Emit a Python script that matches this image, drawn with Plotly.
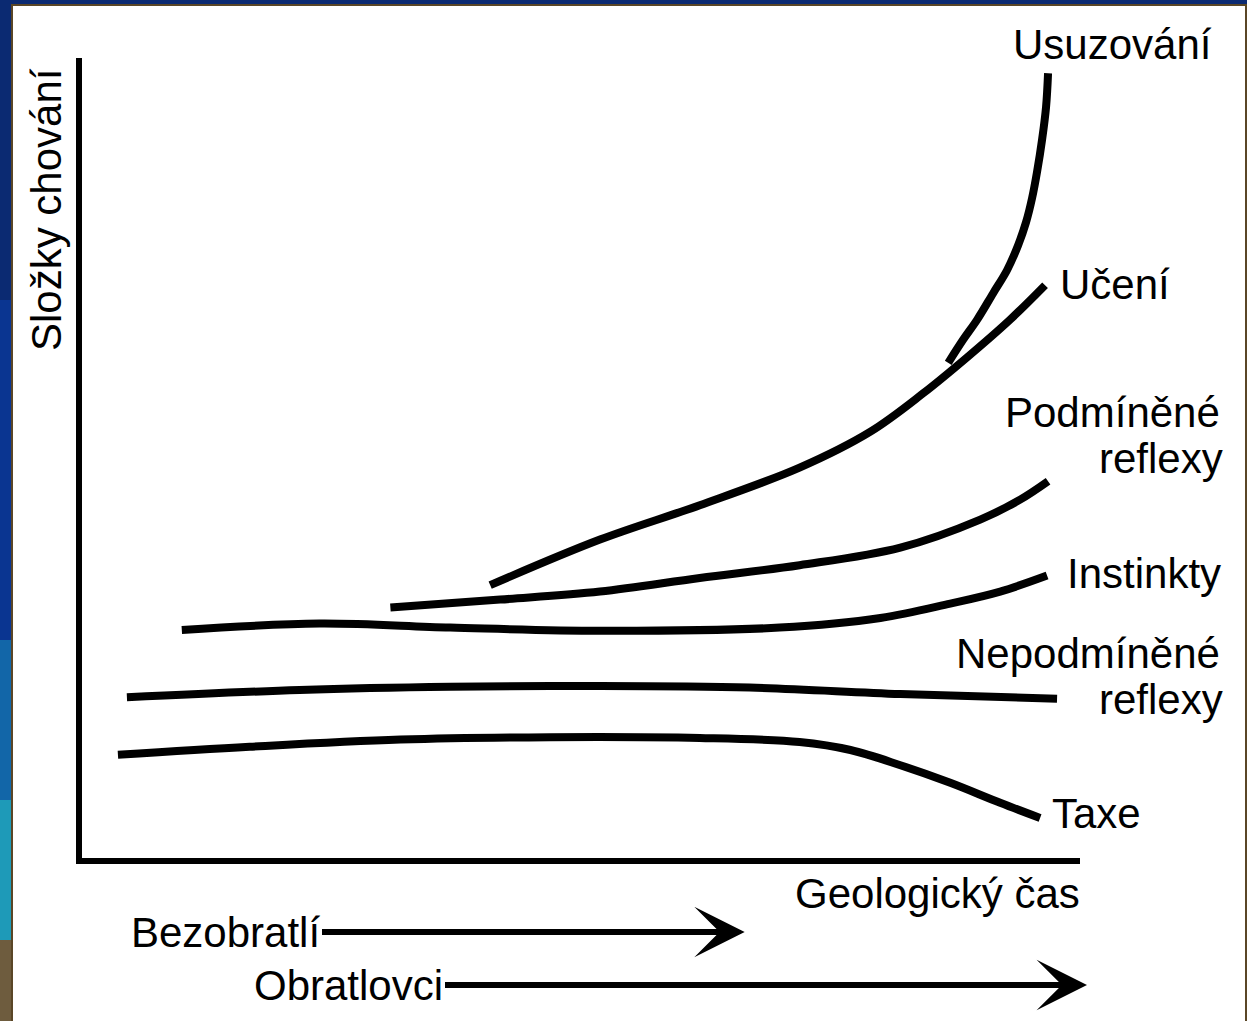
import plotly.graph_objs as go

# geological time (x, 0-100) vs. share of behaviour component (y, 0-100)
taxe_t = [3.6, 16.8, 31.9, 46.9, 61.9, 71.9, 77.0, 82.0, 87.0, 92.0, 96.0]
taxe_v = [12.9, 13.9, 14.8, 15.1, 15.0, 14.5, 13.5, 11.6, 9.4, 6.9, 5.0]

nepodm_t = [4.5, 21.8, 36.9, 51.9, 66.9, 82.0, 97.7]
nepodm_v = [20.1, 21.0, 21.4, 21.5, 21.3, 20.5, 19.9]

instinkty_t = [10.0, 23.8, 36.9, 51.9, 69.9, 80.0, 87.0, 92.0, 96.7]
instinkty_v = [28.5, 29.3, 28.8, 28.4, 28.8, 30.0, 31.8, 33.3, 35.3]

podm_t = [30.9, 41.9, 51.9, 61.9, 71.9, 82.0, 90.0, 94.0, 96.8]
podm_v = [31.3, 32.3, 33.3, 35.0, 36.6, 38.8, 42.3, 44.8, 47.1]

uceni_t = [40.9, 51.9, 61.9, 71.9, 79.0, 84.3, 88.7, 93.0, 96.5]
uceni_v = [34.1, 39.8, 44.1, 48.8, 53.3, 58.1, 62.6, 67.3, 71.6]

usuzovani_t = [86.8, 88.3, 89.7, 91.3, 92.7, 93.8, 94.6, 95.2, 95.7, 96.2, 96.6, 96.8]
usuzovani_v = [61.9, 64.8, 67.3, 70.6, 73.5, 76.6, 79.5, 82.5, 85.8, 89.8, 93.9, 98.1]

# animal groups and how far along geological time their arrows reach
groups = ["Bezobratlí", "Obratlovci"]
group_reach = [66.4, 100.7]

FONT = "Liberation Sans, Arial, sans-serif"
NAVY = "#0b2a72"

W, H = 1247, 1021
M = dict(l=82, r=167, t=58, b=163)
PLOT_W = W - M["l"] - M["r"]
PLOT_H = H - M["t"] - M["b"]


def px_x(px):
    return (px - M["l"]) / PLOT_W


def px_y(py):
    return (H - M["b"] - py) / PLOT_H


curves = [
    (taxe_t, taxe_v),
    (nepodm_t, nepodm_v),
    (instinkty_t, instinkty_v),
    (podm_t, podm_v),
    (uceni_t, uceni_v),
    (usuzovani_t, usuzovani_v),
]

traces = [
    go.Scatter(
        x=t,
        y=v,
        mode="lines",
        line=dict(color="black", width=8, shape="spline", smoothing=1.0),
        hoverinfo="skip",
        showlegend=False,
    )
    for t, v in curves
]

layout = go.Layout(
    width=W,
    height=H,
    margin=M,
    paper_bgcolor=NAVY,
    plot_bgcolor="white",
    font=dict(family=FONT, size=42, color="black"),
    xaxis=dict(
        range=[0, 100], showline=True, linewidth=6, linecolor="black",
        showgrid=False, zeroline=False, showticklabels=False, ticks="",
    ),
    yaxis=dict(
        range=[0, 100], showline=True, linewidth=6, linecolor="black",
        showgrid=False, zeroline=False, showticklabels=False, ticks="",
    ),
)

fig = go.Figure(data=traces, layout=layout)

# slide frame: blue border strip on the left, white panel for the drawing
strip = [(0, 300, "#0b2a72"), (300, 640, "#0a3591"), (640, 800, "#1266a8"),
         (800, 940, "#1e9ab8"), (940, 1021, "#6e5c3e")]
for top, bottom, col in strip:
    fig.add_shape(type="rect", xref="paper", yref="paper", layer="below",
                  x0=px_x(0), x1=px_x(12), y0=px_y(bottom), y1=px_y(top),
                  fillcolor=col, line_width=0)
fig.add_shape(type="rect", xref="paper", yref="paper", layer="below",
              x0=px_x(12), x1=px_x(1246), y0=px_y(1025), y1=px_y(5),
              fillcolor="white", line=dict(color="#5a4626", width=2))

labels = [
    ("Usuzování", 1112, 45, "center"),
    ("Učení", 1058, 285, "left"),
    ("Podmíněné", 1222, 412, "right"),
    ("reflexy", 1225, 458, "right"),
    ("Instinkty", 1065, 573, "left"),
    ("Nepodmíněné", 1222, 653, "right"),
    ("reflexy", 1225, 699, "right"),
    ("Taxe", 1050, 813, "left"),
    ("Geologický čas", 1082, 893, "right"),
]
for text, lx, ly, anchor in labels:
    fig.add_annotation(text=text, xref="paper", yref="paper",
                       x=px_x(lx), y=px_y(ly), xanchor=anchor,
                       yanchor="middle", showarrow=False)

fig.add_annotation(text="Složky chování", xref="paper", yref="paper",
                   x=px_x(47), y=px_y(210), textangle=-90,
                   xanchor="center", yanchor="middle", showarrow=False)

# group arrows below the time axis
tails = [(322, 932), (445, 985)]
for name, reach, (tail_px, ly) in zip(groups, group_reach, tails):
    head = reach / 100
    fig.add_annotation(
        text=name, xref="paper", yref="paper", x=head, y=px_y(ly),
        ax=-(head * PLOT_W + M["l"] - tail_px), ay=0,
        xanchor="right", yanchor="middle",
        showarrow=True, arrowhead=3, arrowsize=1.4, arrowwidth=6,
        arrowcolor="black", standoff=0,
    )

fig.write_html(
    "out.html",
    config={"displayModeBar": False},
    post_script="document.body.style.margin='0';",
)
